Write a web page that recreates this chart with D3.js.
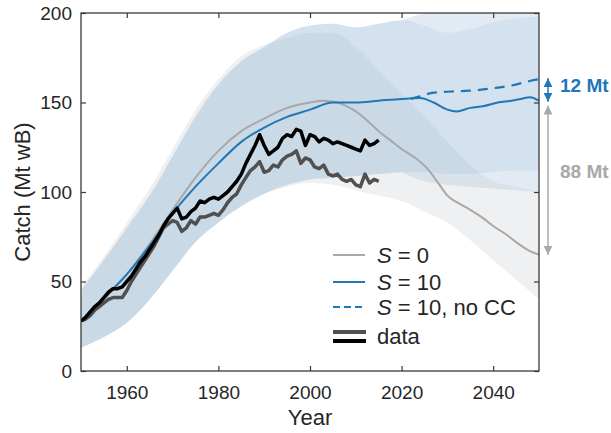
<!DOCTYPE html>
<html>
<head>
<meta charset="utf-8">
<script src="https://cdn.jsdelivr.net/npm/d3@7"></script>
<style>
    body { margin: 0; background: #fff; }
    svg { font-family: "Liberation Sans", Arial, Helvetica, sans-serif; }
</style>
</head>
<body>
<svg id="chart" width="611" height="433"></svg>
<script>
// model runs
let s0Years = [1950, 1955, 1960, 1965, 1970, 1975, 1980, 1985, 1990, 1995, 2000, 2003, 2006, 2008, 2010, 2012, 2015, 2018, 2020, 2023, 2026, 2028, 2030, 2033, 2035, 2038, 2040, 2043, 2045, 2048, 2050];
let s0 = [28, 40, 54, 71, 90, 108, 123, 134, 141, 147, 150, 151, 150, 148, 145, 141, 134, 128, 124, 119, 112, 105, 98, 93, 90, 85, 81, 76, 72, 67, 65];

let s10Years = [1950, 1955, 1960, 1965, 1970, 1975, 1980, 1985, 1990, 1995, 2000, 2005, 2010, 2015, 2020, 2024, 2027, 2030, 2032, 2035, 2038, 2041, 2044, 2046, 2048, 2050];
let s10 = [28, 41, 54, 70, 88, 103, 116, 128, 136, 142, 146, 150, 150, 151, 152, 152.5, 150, 146, 145, 147, 148, 150, 151, 152, 153, 151];

let noCCYears = [2022, 2024, 2027, 2030, 2034, 2037, 2040, 2044, 2048, 2050];
let noCC = [152, 153.5, 155.5, 156, 156.5, 157, 158, 159.5, 162, 163];

// uncertainty bands
let bandYears = [1950, 1955, 1960, 1965, 1970, 1975, 1980, 1985, 1990, 1995, 2000, 2005, 2010, 2015, 2020, 2025, 2030, 2035, 2040, 2045, 2050];
let s10Upper = [45, 62, 80, 98, 120, 142, 160, 173, 181, 189, 193, 194, 192, 194, 196, 193, 189, 191, 195, 197, 198];
let s10Lower = [13, 19, 27, 40, 56, 72, 83, 92, 99, 104, 107, 108, 109, 110, 111, 111, 110, 110, 111, 112, 112];
let s0Upper = [47, 64, 83, 102, 124, 146, 163, 176, 182, 186, 189, 189, 181, 168, 155, 142, 128, 115, 106, 103, 100];
let s0Lower = [13, 19, 27, 40, 56, 72, 83, 92, 99, 103, 105, 104, 101, 98, 95, 89, 83, 73, 62, 51, 40];
let noCCUpper = [196, 200, 203, 204, 205, 206, 207];
let noCCLower = [111, 106, 104, 103, 102, 101, 100];

// observed catch
let dataYears = d3.range(1950, 2016);
let dataA = [28, 30, 33, 36, 38, 41, 44, 46, 46, 47, 50, 53, 57, 61, 64, 68, 72, 76, 81, 85, 88, 91, 85, 86, 89, 91, 95, 94, 96, 97, 96, 98, 100, 103, 106, 110, 116, 121, 126, 132, 126, 121, 123, 125, 130, 132, 131, 135, 134, 126, 132, 131, 128, 130, 129, 127, 128, 127, 126, 125, 124, 123, 129, 126, 127, 129];
let dataB = [28, 29, 31, 34, 36, 38, 40, 41, 41, 41, 45, 50, 54, 58, 62, 66, 70, 75, 80, 82, 84, 83, 78, 80, 84, 82, 86, 86, 87, 88, 87, 90, 94, 97, 99, 104, 108, 112, 114, 117, 111, 112, 115, 114, 118, 120, 121, 123, 116, 119, 118, 114, 113, 115, 110, 109, 110, 107, 106, 107, 104, 103, 110, 105, 107, 106];

let xTicks = [1960, 1980, 2000, 2020, 2040];
let yTicks = [0, 50, 100, 150, 200];

let blue = "#1f77b8";
let grey = "#a8a8a8";
let axisColor = "#3a3a3a";

let svg = d3.select("#chart");
let mLeft = 81, mRight = 539, mTop = 13, mBottom = 371;

let x = d3.scaleLinear().domain([1950, 2050]).range([mLeft, mRight]);
let y = d3.scaleLinear().domain([0, 200]).range([mBottom, mTop]);

svg.append("clipPath").attr("id", "plotClip")
    .append("rect")
    .attr("x", mLeft).attr("y", mTop)
    .attr("width", mRight - mLeft).attr("height", mBottom - mTop);

let plot = svg.append("g").attr("clip-path", "url(#plotClip)");

function band(years, lo, hi) {
    return d3.area()
        .curve(d3.curveMonotoneX)
        .x((d, i) => x(years[i]))
        .y0((d, i) => y(lo[i]))
        .y1((d, i) => y(hi[i]))(years);
}

// no-CC band only shows outside the S = 10 band
let off = bandYears.indexOf(2020);
let tailYears = bandYears.slice(off);
plot.append("path")
    .attr("d", band(tailYears, s10Upper.slice(off), noCCUpper))
    .attr("fill", "#e2ebf4");
plot.append("path")
    .attr("d", band(tailYears, noCCLower, s10Lower.slice(off)))
    .attr("fill", "#e2ebf4");

plot.append("path")
    .attr("d", band(bandYears, s0Lower, s0Upper))
    .attr("fill", "rgb(200,205,210)")
    .attr("fill-opacity", 0.3);

plot.append("path")
    .attr("d", band(bandYears, s10Lower, s10Upper))
    .attr("fill", "rgb(148,183,215)")
    .attr("fill-opacity", 0.4);

function line(years, vals, curve) {
    return d3.line()
        .curve(curve || d3.curveLinear)
        .x((d, i) => x(years[i]))
        .y((d, i) => y(vals[i]))(years);
}

plot.append("path").attr("d", line(s0Years, s0, d3.curveMonotoneX))
    .attr("fill", "none").attr("stroke", grey).attr("stroke-width", 2);

plot.append("path").attr("d", line(noCCYears, noCC, d3.curveMonotoneX))
    .attr("fill", "none").attr("stroke", blue).attr("stroke-width", 2.2)
    .attr("stroke-dasharray", "10,7");

plot.append("path").attr("d", line(s10Years, s10, d3.curveMonotoneX))
    .attr("fill", "none").attr("stroke", blue).attr("stroke-width", 2);

plot.append("path").attr("d", line(dataYears, dataB))
    .attr("fill", "none").attr("stroke", "#505050").attr("stroke-width", 3.5)
    .attr("stroke-linejoin", "round");

plot.append("path").attr("d", line(dataYears, dataA))
    .attr("fill", "none").attr("stroke", "#000").attr("stroke-width", 3.5)
    .attr("stroke-linejoin", "round");

// axes, ticks pointing inward on all four sides
function styleAxis(g) {
    g.select(".domain").remove();
    g.selectAll("line").attr("stroke", axisColor).attr("stroke-width", 1.2);
    g.selectAll("text").attr("fill", "#262626").style("font-size", "19px");
}

svg.append("g").attr("transform", `translate(0,${mBottom})`)
    .call(d3.axisBottom(x).tickValues(xTicks).tickFormat(d3.format("d")).tickSizeInner(-5).tickSizeOuter(0).tickPadding(15))
    .call(styleAxis);
svg.append("g").attr("transform", `translate(0,${mTop})`)
    .call(d3.axisTop(x).tickValues(xTicks).tickFormat("").tickSizeInner(-5).tickSizeOuter(0))
    .call(styleAxis);
svg.append("g").attr("transform", `translate(${mLeft},0)`)
    .call(d3.axisLeft(y).tickValues(yTicks).tickSizeInner(-5).tickSizeOuter(0).tickPadding(9))
    .call(styleAxis);
svg.append("g").attr("transform", `translate(${mRight},0)`)
    .call(d3.axisRight(y).tickValues(yTicks).tickFormat("").tickSizeInner(-5).tickSizeOuter(0))
    .call(styleAxis);

svg.append("rect")
    .attr("x", mLeft).attr("y", mTop)
    .attr("width", mRight - mLeft).attr("height", mBottom - mTop)
    .attr("fill", "none").attr("stroke", axisColor).attr("stroke-width", 1.3);

svg.append("text")
    .attr("x", (mLeft + mRight) / 2).attr("y", 425)
    .attr("text-anchor", "middle").attr("fill", "#262626")
    .style("font-size", "22px")
    .text("Year");

svg.append("text")
    .attr("transform", `translate(30,${(mTop + mBottom) / 2}) rotate(-90)`)
    .attr("text-anchor", "middle").attr("fill", "#262626")
    .style("font-size", "22px")
    .text("Catch (Mt wB)");

// legend
let legend = svg.append("g");
let rows = [
    { label: ["S", " = 0"], color: grey, dash: null, y: 255 },
    { label: ["S", " = 10"], color: blue, dash: null, y: 282 },
    { label: ["S", " = 10, no CC"], color: blue, dash: "7,4", y: 307 }
];
rows.forEach(r => {
    legend.append("line")
        .attr("x1", 333).attr("x2", 365).attr("y1", r.y).attr("y2", r.y)
        .attr("stroke", r.color).attr("stroke-width", 2)
        .attr("stroke-dasharray", r.dash);
    let t = legend.append("text")
        .attr("x", 377).attr("y", r.y + 8)
        .attr("fill", "#262626").style("font-size", "22px");
    t.append("tspan").attr("font-style", "italic").text(r.label[0]);
    t.append("tspan").text(r.label[1]);
});
legend.append("line").attr("x1", 333).attr("x2", 366).attr("y1", 332).attr("y2", 332)
    .attr("stroke", "#505050").attr("stroke-width", 4);
legend.append("line").attr("x1", 333).attr("x2", 366).attr("y1", 341).attr("y2", 341)
    .attr("stroke", "#000").attr("stroke-width", 4);
legend.append("text").attr("x", 377).attr("y", 344)
    .attr("fill", "#262626").style("font-size", "22px").text("data");

// difference arrows at 2050
let defs = svg.append("defs");
[["headBlue", blue], ["headGrey", grey]].forEach(([id, c]) => {
    defs.append("marker")
        .attr("id", id).attr("viewBox", "0 0 10 10")
        .attr("refX", 10).attr("refY", 5)
        .attr("markerWidth", 6).attr("markerHeight", 6)
        .attr("orient", "auto-start-reverse")
        .append("path").attr("d", "M0,0L10,5L0,10z").attr("fill", c);
});

let ax = 548;
svg.append("line")
    .attr("x1", ax).attr("x2", ax)
    .attr("y1", y(noCC[noCC.length - 1]) - 1).attr("y2", y(s10[s10.length - 1]) + 1)
    .attr("stroke", blue).attr("stroke-width", 1.5)
    .attr("marker-start", "url(#headBlue)").attr("marker-end", "url(#headBlue)");
svg.append("line")
    .attr("x1", ax).attr("x2", ax)
    .attr("y1", y(150) + 3).attr("y2", y(s0[s0.length - 1]))
    .attr("stroke", grey).attr("stroke-width", 1.5)
    .attr("marker-start", "url(#headGrey)").attr("marker-end", "url(#headGrey)");

svg.append("text").attr("x", 560).attr("y", 92)
    .attr("fill", blue).attr("font-weight", "bold").style("font-size", "19px")
    .text("12 Mt");
svg.append("text").attr("x", 560).attr("y", 178)
    .attr("fill", grey).attr("font-weight", "bold").style("font-size", "19px")
    .text("88 Mt");
</script>
</body>
</html>
